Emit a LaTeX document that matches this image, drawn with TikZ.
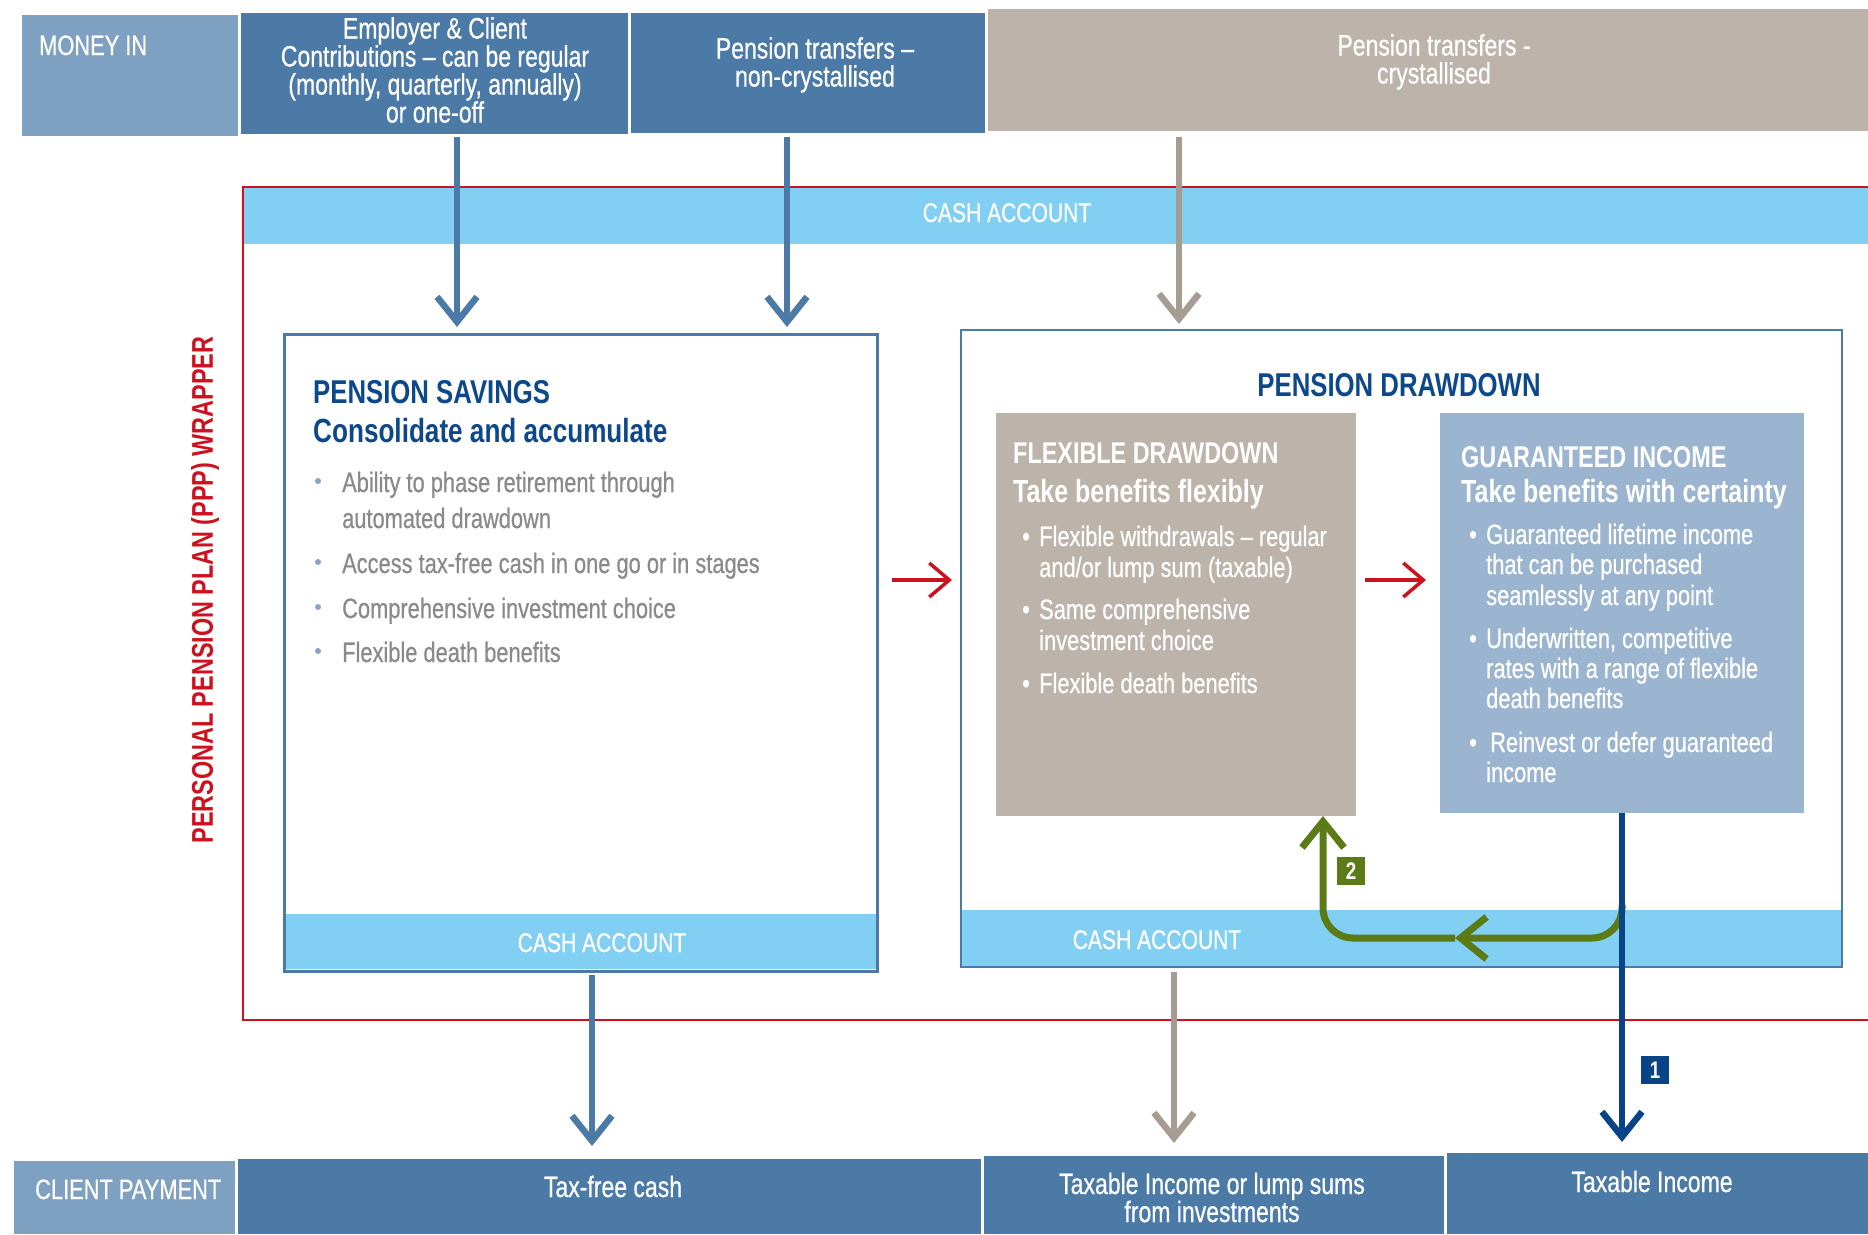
\documentclass[tikz,border=0pt]{standalone}
\usepackage{fontspec}
\setmainfont{Liberation Sans}[FakeStretch=0.78,UprightFeatures={FakeBold=0.6}]
\usetikzlibrary{arrows.meta,positioning}
\definecolor{SteelLight}{RGB}{127,161,193}
\definecolor{MidBlue}{RGB}{75,122,167}
\definecolor{Taupe}{RGB}{188,179,170}
\definecolor{TaupeDark}{RGB}{166,156,146}
\definecolor{CashBlue}{RGB}{130,207,244}
\definecolor{NavyText}{RGB}{12,72,138}
\definecolor{NavyArrow}{RGB}{10,68,134}
\definecolor{WrapRed}{RGB}{204,18,30}
\definecolor{GIBlue}{RGB}{155,180,207}
\definecolor{Olive}{RGB}{92,122,22}
\definecolor{BulletGrey}{RGB}{138,138,138}
\definecolor{DotBlue}{RGB}{140,160,200}

\begin{document}
\begin{tikzpicture}[x=1pt,y=-1pt,
    blk/.style={anchor=north west,inner sep=0,outer sep=0},
    lbl/.style={anchor=base,inner sep=0,text=white,font=\fontsize{29.5}{29.5}\selectfont},
    hd/.style={anchor=base west,inner sep=0,text=NavyText,font=\bfseries\fontsize{33}{33}\selectfont},
    ttl/.style={anchor=base west,inner sep=0,text=white,font=\bfseries\fontsize{30}{30}\selectfont},
    sub/.style={ttl,font=\bfseries\fontsize{32}{32}\selectfont},
    itm/.style={anchor=base west,inner sep=0,text=white,font=\fontsize{28}{28}\selectfont},
    flow/.style={line width=6.5pt,-{Straight Barb[length=25pt,width=40pt]}},
    nxt/.style={WrapRed,line width=3.5pt,-{Straight Barb[length=20pt,width=34pt]}},
    back/.style={Olive,line width=7pt,rounded corners=30pt,-{Straight Barb[length=26pt,width=42pt]}},
    tag/.style={fill=#1,text=white,inner sep=0,minimum size=28pt,font=\bfseries\fontsize{24}{24}\selectfont}
  ]
  \path[use as bounding box,fill=white] (0,0) rectangle (1868,1234);

  % money in row
  \node[blk,fill=SteelLight,minimum width=216pt,minimum height=121pt] (mny) at (22,15) {};
  \node[blk,fill=MidBlue,minimum width=387pt,minimum height=121pt] (emp) at (241,13) {};
  \node[blk,fill=MidBlue,minimum width=354pt,minimum height=120pt] (ncr) at (631,13) {};
  \node[blk,fill=Taupe,minimum width=880pt,minimum height=122pt] (cry) at (988,9) {};
  \node[lbl,anchor=base west,font=\fontsize{28}{28}\selectfont] (mnyt) at (39,55) {MONEY IN};
  \foreach \y/\t [count=\i] in {38.5/{Employer \& Client},66.5/{Contributions -- can be regular},
      94.5/{(monthly, quarterly, annually)},122.5/{or one-off}}
    \node[lbl] (empt\i) at (435,\y) {\t};
  \node[lbl] (ncrt1) at (815,58.5) {Pension transfers --};
  \node[lbl] (ncrt2) at (815,86.5) {non-crystallised};
  \node[lbl] (cryt1) at (1434,55.5) {Pension transfers -};
  \node[lbl] (cryt2) at (1434,83.5) {crystallised};

  % PPP wrapper
  \node[blk,fill=CashBlue,minimum width=1624pt,minimum height=56pt] (cash) at (244,188) {};
  \node[lbl,font=\fontsize{27}{27}\selectfont] (casht) at (1007,222) {CASH ACCOUNT};
  \draw[WrapRed,line width=2.5pt] (1868,187) -| (243,1020) -- (1868,1020);
  \node[rotate=90,inner sep=0,text=WrapRed,font=\bfseries\fontsize{30}{30}\selectfont]
    (ppp) at (205,590) {PERSONAL PENSION PLAN (PPP) WRAPPER};

  % pension savings
  \node[blk,fill=CashBlue,minimum width=591pt,minimum height=55pt] (savcash) at (286,914) {};
  \node[blk,draw=MidBlue,line width=3pt,minimum width=593pt,minimum height=637pt] (sav) at (284,334) {};
  \node[lbl,font=\fontsize{27}{27}\selectfont] (savcasht) at (602,952) {CASH ACCOUNT};
  \node[hd] (savt1) at (313,403) {PENSION SAVINGS};
  \node[hd,font=\bfseries\fontsize{33.5}{33.5}\selectfont] (savt2) at (313,442) {Consolidate and accumulate};
  \foreach \y/\t [count=\i] in {492/{Ability to phase retirement through},528/{automated drawdown},
      573/{Access tax-free cash in one go or in stages},618/{Comprehensive investment choice},
      662/{Flexible death benefits}}
    \node[itm,text=BulletGrey] (sl\i) at (342,\y) {\t};
  \foreach \y [count=\i] in {492,573,618,662}
    \node[circle,fill=DotBlue,inner sep=0,minimum size=6pt] (sd\i) at (318,\y-11) {};

  % pension drawdown
  \node[blk,fill=CashBlue,minimum width=879pt,minimum height=56pt] (ddcash) at (962,910) {};
  \node[blk,draw=MidBlue,line width=2pt,minimum width=881pt,minimum height=637pt] (dd) at (961,330) {};
  \node[lbl,font=\fontsize{27}{27}\selectfont] (ddcasht) at (1157,949) {CASH ACCOUNT};
  \node[hd,anchor=base] (ddt) at (1399,396) {PENSION DRAWDOWN};

  \node[blk,fill=Taupe,minimum width=360pt,minimum height=403pt] (flex) at (996,413) {};
  \node[ttl] (flext1) at (1013,463) {FLEXIBLE DRAWDOWN};
  \node[sub] (flext2) at (1013,502) {Take benefits flexibly};
  \foreach \y/\t [count=\i] in {546/{Flexible withdrawals -- regular},577/{and/or lump sum (taxable)},
      619/{Same comprehensive},650/{investment choice},693/{Flexible death benefits}}
    \node[itm] (fl\i) at (1039,\y) {\t};
  \foreach \y [count=\i] in {546,619,693}
    \node[itm] (fb\i) at (1022,\y) {\textbullet};

  \node[blk,fill=GIBlue,minimum width=364pt,minimum height=400pt] (gi) at (1440,413) {};
  \node[ttl] (git1) at (1461,467) {GUARANTEED INCOME};
  \node[sub] (git2) at (1461,502) {Take benefits with certainty};
  \foreach \y/\t [count=\i] in {544/{Guaranteed lifetime income},574/{that can be purchased},
      605/{seamlessly at any point},648/{Underwritten, competitive},678/{rates with a range of flexible},
      708/{death benefits},752/{\hspace{4pt}Reinvest or defer guaranteed},782/{income}}
    \node[itm] (gl\i) at (1486,\y) {\t};
  \foreach \y [count=\i] in {544,648,752}
    \node[itm] (gb\i) at (1469,\y) {\textbullet};

  % client payment row
  \node[blk,fill=SteelLight,minimum width=221pt,minimum height=73pt] (cp) at (14,1161) {};
  \node[blk,fill=MidBlue,minimum width=743pt,minimum height=75pt] (pay1) at (238,1159) {};
  \node[blk,fill=MidBlue,minimum width=460pt,minimum height=78pt] (pay2) at (984,1156) {};
  \node[blk,fill=MidBlue,minimum width=421pt,minimum height=81pt] (pay3) at (1447,1153) {};
  \node[lbl,anchor=base west,font=\fontsize{28}{28}\selectfont] (cpt) at (35,1199) {CLIENT PAYMENT};
  \node[lbl] (pay1t) at (613,1197) {Tax-free cash};
  \node[lbl] (pay2t1) at (1212,1194) {Taxable Income or lump sums};
  \node[lbl] (pay2t2) at (1212,1222) {from investments};
  \node[lbl] (pay3t) at (1652,1192) {Taxable Income};

  % money flows
  \coordinate (a1) at (457,137);
  \coordinate (a2) at (787,137);
  \coordinate (a3) at (1179,137);
  \coordinate (b1) at (592,975);
  \coordinate (b2) at (1174,972);
  \coordinate (lvl) at (0,580);
  \draw[flow,MidBlue,shorten >=7pt] (a1) -- (a1 |- sav.north);
  \draw[flow,MidBlue,shorten >=7pt] (a2) -- (a2 |- sav.north);
  \draw[flow,TaupeDark,shorten >=6pt] (a3) -- (a3 |- dd.north);
  \draw[nxt,shorten <=15pt,shorten >=9pt] (sav.east |- lvl) -- (dd.west |- lvl);
  \draw[nxt,shorten <=9pt,shorten >=14pt] (flex.east |- lvl) -- (gi.west |- lvl);
  \draw[flow,MidBlue,shorten >=13pt] (b1) -- (b1 |- pay1.north);
  \draw[flow,TaupeDark,shorten >=13pt] (b2) -- (b2 |- pay2.north);

  % reinvest loop
  \coordinate (g1) at (1622,905);
  \coordinate (gm) at (1455,938);
  \draw[back] (g1) |- (gm);
  \draw[back] (gm) -| ([xshift=-33pt]flex.south east);
  \draw[flow,NavyArrow,shorten >=11pt] (gi.south) -- (gi.south |- pay3.north);
  \node[tag=NavyArrow] (n1) at (1655,1070) {1};
  \node[tag=Olive] (n2) at (1351,871) {2};
\end{tikzpicture}
\end{document}
